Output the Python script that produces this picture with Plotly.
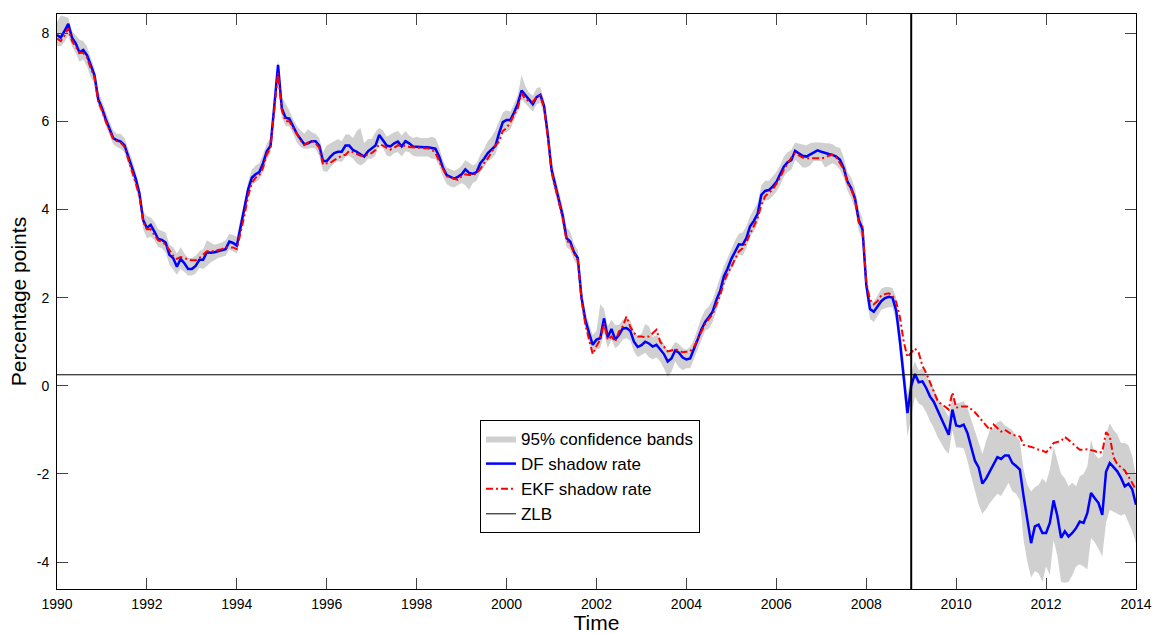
import plotly.graph_objects as go

start_year = 1990
n_months = 289  # Jan 1990 ... Jan 2014

df_rate = [
    7.96, 7.90, 8.05, 8.21, 7.90, 7.77, 7.56, 7.62, 7.50, 7.25, 7.05, 6.50,
    6.30, 6.05, 5.84, 5.62, 5.57, 5.54, 5.46, 5.20, 4.95, 4.70, 4.37, 3.76,
    3.58, 3.65, 3.50, 3.33, 3.31, 3.25, 2.97, 2.90, 2.70, 2.88, 2.78, 2.65,
    2.65, 2.72, 2.86, 2.86, 3.03, 3.02, 3.03, 3.05, 3.08, 3.10, 3.27, 3.24,
    3.18, 3.62, 4.00, 4.45, 4.72, 4.80, 4.85, 5.05, 5.32, 5.45, 6.35, 7.28,
    6.30, 6.08, 6.06, 5.90, 5.72, 5.60, 5.48, 5.50, 5.55, 5.55, 5.45, 5.10,
    5.10, 5.20, 5.28, 5.31, 5.31, 5.45, 5.45, 5.35, 5.31, 5.25, 5.20, 5.32,
    5.38, 5.45, 5.69, 5.58, 5.45, 5.43, 5.50, 5.54, 5.43, 5.55, 5.50, 5.43,
    5.42, 5.41, 5.41, 5.41, 5.40, 5.38, 5.20, 4.95, 4.78, 4.74, 4.70, 4.74,
    4.80, 4.91, 4.83, 4.81, 4.85, 5.05, 5.15, 5.28, 5.35, 5.44, 5.73, 5.98,
    6.03, 6.03, 6.20, 6.40, 6.70, 6.60, 6.49, 6.39, 6.55, 6.60, 6.35, 5.70,
    4.90, 4.55, 4.25, 3.85, 3.35, 3.27, 3.03, 2.90, 2.00, 1.50, 1.20, 0.93,
    1.05, 1.08, 1.53, 1.10, 1.29, 1.05, 1.15, 1.30, 1.31, 1.25, 1.00, 0.88,
    0.92, 1.00, 0.96, 0.89, 0.93, 0.83, 0.72, 0.55, 0.62, 0.80, 0.75, 0.64,
    0.60, 0.62, 0.82, 1.05, 1.28, 1.45, 1.56, 1.68, 1.95, 2.15, 2.48, 2.66,
    2.88, 3.06, 3.21, 3.20, 3.35, 3.62, 3.74, 3.90, 4.33, 4.42, 4.44, 4.52,
    4.62, 4.80, 4.97, 5.07, 5.12, 5.33, 5.27, 5.22, 5.20, 5.25, 5.30, 5.34,
    5.31, 5.28, 5.26, 5.24, 5.20, 5.13, 4.94, 4.63, 4.48, 4.25, 3.76, 3.55,
    2.30, 1.74, 1.68, 1.80, 1.92, 1.99, 2.02, 2.00, 1.70, 1.00, 0.25, -0.62,
    0.00, 0.27, 0.08, 0.10, -0.05, -0.24, -0.36, -0.55, -0.72, -0.92, -1.11, -0.54,
    -0.90, -0.92, -0.88, -1.07, -1.38, -1.70, -1.85, -2.22, -2.10, -1.94, -1.75, -1.62,
    -1.66, -1.58, -1.58, -1.75, -1.82, -1.90, -2.51, -3.04, -3.57, -3.19, -3.15, -3.34,
    -3.34, -3.11, -2.60, -2.95, -3.45, -3.30, -3.42, -3.34, -3.23, -3.08, -3.11, -2.89,
    -2.43, -2.55, -2.66, -2.93, -1.95, -1.75, -1.84, -1.94, -2.09, -2.28, -2.22, -2.35,
    -2.70,
]

ekf_rate = [
    7.88, 7.82, 7.95, 8.11, 7.82, 7.70, 7.56, 7.55, 7.45, 7.20, 7.00, 6.45,
    6.25, 6.00, 5.80, 5.60, 5.55, 5.52, 5.42, 5.15, 4.90, 4.60, 4.30, 3.72,
    3.55, 3.55, 3.42, 3.30, 3.27, 3.20, 3.08, 2.95, 2.88, 2.92, 2.90, 2.86,
    2.85, 2.85, 2.90, 2.98, 3.05, 3.05, 3.05, 3.08, 3.10, 3.14, 3.14, 3.14,
    3.10, 3.45, 3.85, 4.30, 4.60, 4.72, 4.78, 4.95, 5.25, 5.40, 6.20, 7.10,
    6.25, 6.00, 6.00, 5.85, 5.70, 5.57, 5.46, 5.52, 5.55, 5.50, 5.40, 5.02,
    5.05, 5.06, 5.12, 5.18, 5.22, 5.24, 5.33, 5.30, 5.26, 5.22, 5.22, 5.24,
    5.28, 5.35, 5.48, 5.45, 5.40, 5.36, 5.40, 5.46, 5.43, 5.45, 5.42, 5.41,
    5.40, 5.39, 5.39, 5.39, 5.36, 5.28, 5.10, 4.90, 4.75, 4.73, 4.70, 4.67,
    4.75, 4.80, 4.78, 4.78, 4.82, 4.92, 5.05, 5.16, 5.30, 5.45, 5.54, 5.78,
    5.85, 5.98, 6.15, 6.30, 6.64, 6.50, 6.46, 6.44, 6.55, 6.58, 6.30, 5.65,
    4.85, 4.50, 4.20, 3.80, 3.30, 3.22, 3.00, 2.85, 1.95, 1.40, 1.05, 0.72,
    0.90, 1.05, 1.42, 1.04, 1.12, 1.00, 1.23, 1.35, 1.57, 1.34, 1.20, 1.12,
    1.12, 1.10, 1.12, 1.19, 1.27, 1.00, 0.88, 0.78, 0.80, 0.83, 0.80, 0.76,
    0.77, 0.78, 0.88, 1.05, 1.22, 1.40, 1.52, 1.62, 1.85, 2.05, 2.35, 2.55,
    2.70, 2.86, 3.05, 3.12, 3.25, 3.45, 3.62, 3.80, 4.10, 4.30, 4.38, 4.45,
    4.58, 4.72, 4.90, 5.05, 5.18, 5.28, 5.22, 5.18, 5.16, 5.16, 5.16, 5.16,
    5.16, 5.18, 5.22, 5.24, 5.18, 5.05, 4.90, 4.60, 4.45, 4.22, 3.70, 3.62,
    2.35, 1.95, 1.85, 1.92, 2.05, 2.08, 2.10, 2.05, 1.90, 1.55, 1.00, 0.65,
    0.75, 0.85, 0.75, 0.45, 0.29, 0.08, -0.12, -0.33, -0.42, -0.47, -0.54, -0.15,
    -0.50, -0.47, -0.47, -0.47, -0.53, -0.60, -0.70, -0.80, -0.90, -1.00, -0.88, -0.95,
    -1.04, -1.00, -1.05, -1.11, -1.13, -1.15, -1.34, -1.36, -1.38, -1.41, -1.45, -1.47,
    -1.51, -1.42, -1.30, -1.28, -1.25, -1.16, -1.22, -1.30, -1.38, -1.45, -1.45, -1.44,
    -1.46, -1.48, -1.52, -1.50, -1.05, -1.15, -1.62, -1.78, -1.85, -1.92, -2.06, -2.21,
    -2.36,
]

band_upper = [
    8.25, 8.40, 8.38, 8.35, 8.05, 7.95, 7.85, 7.82, 7.70, 7.45, 7.20, 6.70,
    6.45, 6.20, 6.00, 5.80, 5.72, 5.72, 5.62, 5.38, 5.15, 4.85, 4.52, 3.95,
    3.85, 3.82, 3.72, 3.55, 3.52, 3.48, 3.20, 3.15, 3.00, 3.15, 3.00, 2.90,
    2.90, 2.95, 3.05, 3.10, 3.30, 3.25, 3.20, 3.22, 3.25, 3.30, 3.45, 3.42,
    3.38, 3.80, 4.15, 4.62, 4.90, 5.00, 5.05, 5.25, 5.50, 5.62, 6.50, 7.40,
    6.55, 6.40, 6.25, 6.05, 5.90, 5.80, 5.72, 5.82, 5.75, 5.72, 5.62, 5.30,
    5.45, 5.50, 5.55, 5.60, 5.55, 5.70, 5.70, 5.62, 5.78, 5.85, 5.50, 5.60,
    5.60, 5.75, 5.85, 5.80, 5.65, 5.70, 5.75, 5.78, 5.68, 5.78, 5.68, 5.62,
    5.65, 5.62, 5.62, 5.62, 5.65, 5.62, 5.42, 5.12, 4.95, 4.92, 4.88, 4.92,
    5.00, 5.12, 5.05, 5.00, 5.05, 5.25, 5.38, 5.55, 5.65, 5.80, 6.00, 6.20,
    6.25, 6.22, 6.40, 6.60, 7.05, 6.80, 6.65, 6.58, 6.75, 6.78, 6.50, 5.90,
    5.10, 4.75, 4.45, 4.05, 3.60, 3.50, 3.22, 3.08, 2.20, 1.70, 1.40, 1.15,
    1.25, 1.85, 1.75, 1.35, 1.50, 1.38, 1.38, 1.50, 1.52, 1.48, 1.25, 1.12,
    1.18, 1.40, 1.35, 1.10, 1.15, 1.08, 0.95, 0.80, 0.85, 1.00, 0.95, 0.85,
    0.82, 0.88, 1.05, 1.30, 1.55, 1.72, 1.80, 1.95, 2.20, 2.42, 2.72, 2.90,
    3.12, 3.30, 3.45, 3.48, 3.62, 3.85, 4.00, 4.15, 4.55, 4.65, 4.65, 4.75,
    4.85, 5.00, 5.20, 5.30, 5.35, 5.52, 5.50, 5.48, 5.45, 5.50, 5.52, 5.52,
    5.52, 5.50, 5.50, 5.48, 5.42, 5.40, 5.18, 4.85, 4.72, 4.48, 4.00, 3.80,
    2.55, 1.95, 1.90, 2.05, 2.20, 2.24, 2.24, 2.22, 2.00, 1.35, 0.60, -0.20,
    0.30, 0.55, 0.35, 0.40, 0.25, 0.05, -0.05, -0.25, -0.40, -0.55, -0.70, -0.25,
    -0.40, -0.38, -0.35, -0.50, -0.75, -1.05, -1.30, -1.55, -1.25, -1.00, -0.95, -0.82,
    -0.80, -0.90, -0.95, -1.00, -1.15, -1.25, -1.90, -2.25, -2.40, -2.30, -2.25, -2.10,
    -2.20, -1.90, -1.38, -1.70, -2.00, -2.10, -2.28, -2.20, -2.28, -2.05, -2.00, -1.83,
    -1.22, -1.55, -1.65, -1.60, -1.10, -0.85, -1.00, -1.10, -1.30, -1.30, -1.35, -1.60,
    -2.06,
]

band_lower = [
    7.72, 7.70, 7.80, 7.95, 7.70, 7.55, 7.35, 7.40, 7.25, 7.00, 6.85, 6.35,
    6.15, 5.90, 5.68, 5.48, 5.42, 5.38, 5.30, 5.02, 4.78, 4.50, 4.20, 3.55,
    3.35, 3.38, 3.30, 3.15, 3.12, 3.02, 2.75, 2.65, 2.52, 2.65, 2.58, 2.50,
    2.50, 2.55, 2.68, 2.65, 2.72, 2.80, 2.85, 2.90, 2.92, 2.95, 3.10, 3.05,
    3.00, 3.40, 3.80, 4.25, 4.55, 4.62, 4.68, 4.85, 5.12, 5.28, 6.10, 7.05,
    6.10, 5.90, 5.88, 5.72, 5.52, 5.42, 5.38, 5.38, 5.40, 5.38, 5.22, 4.88,
    4.85, 4.95, 5.05, 5.10, 5.08, 5.20, 5.22, 5.15, 5.05, 5.00, 5.05, 5.15,
    5.15, 5.22, 5.50, 5.40, 5.22, 5.20, 5.28, 5.30, 5.20, 5.32, 5.30, 5.22,
    5.20, 5.20, 5.20, 5.20, 5.15, 5.15, 5.00, 4.75, 4.58, 4.52, 4.50, 4.55,
    4.60, 4.55, 4.45, 4.60, 4.65, 4.85, 4.95, 5.10, 5.15, 5.25, 5.50, 5.78,
    5.75, 5.82, 6.00, 6.22, 6.50, 6.42, 6.32, 6.22, 6.38, 6.42, 6.15, 5.50,
    4.70, 4.35, 4.05, 3.65, 3.15, 3.08, 2.85, 2.72, 1.82, 1.32, 1.00, 0.72,
    0.82, 0.85, 1.20, 0.85, 1.05, 0.85, 0.92, 1.05, 1.08, 1.02, 0.78, 0.65,
    0.70, 0.75, 0.65, 0.60, 0.65, 0.55, 0.40, 0.20, 0.32, 0.55, 0.42, 0.35,
    0.40, 0.40, 0.60, 0.82, 1.05, 1.25, 1.30, 1.45, 1.70, 1.95, 2.25, 2.45,
    2.65, 2.82, 2.98, 2.95, 3.12, 3.40, 3.50, 3.68, 4.10, 4.20, 4.22, 4.30,
    4.40, 4.55, 4.75, 4.85, 4.90, 5.12, 5.05, 4.95, 4.95, 5.00, 5.10, 5.10,
    5.10, 4.95, 5.00, 5.05, 5.00, 4.90, 4.72, 4.42, 4.25, 4.02, 3.52, 3.32,
    2.05, 1.52, 1.45, 1.58, 1.72, 1.76, 1.78, 1.78, 1.45, 0.70, -0.05, -1.15,
    -0.70, -0.25, -0.40, -0.45, -0.60, -0.80, -0.95, -1.15, -1.30, -1.45, -1.55, -1.00,
    -1.40, -1.40, -1.42, -1.70, -2.05, -2.40, -2.70, -2.90, -2.80, -2.66, -2.55, -2.45,
    -2.50, -2.35, -2.20, -2.40, -2.45, -2.60, -3.50, -4.00, -4.35, -4.20, -4.25, -4.45,
    -4.10, -4.30, -3.50, -3.85, -4.45, -4.47, -4.45, -4.30, -4.10, -4.05, -4.10, -4.17,
    -3.45, -3.55, -3.70, -3.87, -3.10, -2.81, -2.85, -2.90, -2.95, -2.90, -3.10, -3.30,
    -3.57,
]

zlb_level = 0.25
zlb_break_year = 2009
x_ticks = [1990, 1992, 1994, 1996, 1998, 2000, 2002, 2004, 2006, 2008, 2010, 2012, 2014]
y_ticks = [-4, -2, 0, 2, 4, 6, 8]
y_tick_labels = ["-4", "-2", "0", "2", "4", "6", "8"]

months = [start_year + i / 12 for i in range(n_months)]

FONT = "Liberation Sans, Arial, Helvetica, sans-serif"

fig = go.Figure()
fig.add_trace(go.Scatter(
    x=months + months[::-1], y=band_upper + band_lower[::-1],
    fill="toself", fillcolor="rgb(208,208,208)", line=dict(width=0),
    mode="lines", name="95% confidence bands", hoverinfo="skip",
))
fig.add_trace(go.Scatter(
    x=months, y=df_rate, mode="lines", name="DF shadow rate",
    line=dict(color="rgb(0,0,255)", width=2.5),
))
fig.add_trace(go.Scatter(
    x=months, y=ekf_rate, mode="lines", name="EKF shadow rate",
    line=dict(color="rgb(255,0,0)", width=2, dash="7px,3px,2px,3px"),
))
fig.add_trace(go.Scatter(
    x=[x_ticks[0], x_ticks[-1]], y=[zlb_level, zlb_level], mode="lines", name="ZLB",
    line=dict(color="black", width=1),
))
fig.add_shape(type="line", x0=zlb_break_year, x1=zlb_break_year, y0=0, y1=1,
              xref="x", yref="paper", line=dict(color="black", width=2))

fig.update_layout(
    width=1157, height=634,
    margin=dict(l=57, r=21, t=14, b=45),
    paper_bgcolor="white", plot_bgcolor="white",
    font=dict(family=FONT, size=14, color="black"),
    showlegend=True,
    legend=dict(
        x=0.392, y=0.294, xanchor="left", yanchor="top",
        bordercolor="black", borderwidth=1, bgcolor="white",
        font=dict(family=FONT, size=17, color="black"),
        tracegroupgap=0,
    ),
    xaxis=dict(
        range=[1990, 2014], tickvals=x_ticks, ticks="inside", ticklen=11,
        showline=True, linecolor="black", linewidth=1, mirror="ticks",
        showgrid=False, zeroline=False, ticklabelstandoff=2, automargin=False,
        title=dict(text="Time", font=dict(size=21), standoff=0),
        tickfont=dict(size=14),
    ),
    yaxis=dict(
        range=[-4.61, 8.435], tickvals=y_ticks, ticktext=y_tick_labels,
        ticks="inside", ticklen=11,
        showline=True, linecolor="black", linewidth=1, mirror="ticks",
        showgrid=False, zeroline=False, ticklabelstandoff=4, automargin=False,
        title=dict(text="Percentage points", font=dict(size=21), standoff=4),
        tickfont=dict(size=14),
    ),
)

fig.write_html("out.html")
